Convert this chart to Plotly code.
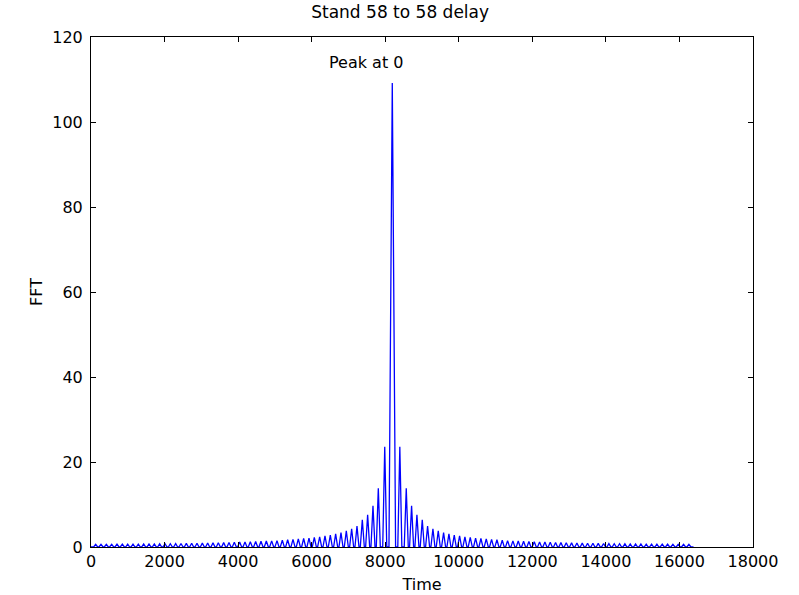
import plotly.graph_objects as go

# ---- data ----
center_time = 8192
last_time = 16383
peak_height = 109.2
peak_halfwidth = 90
lobe_halfwidth = 55

# offsets of side lobes from the centre (same on both sides)
lobe_offsets = [205, 380, 525, 670, 815, 960, 1105, 1250, 1395, 1540,
                1685, 1830, 1975, 2120, 2265, 2410, 2555, 2700, 2845, 2990,
                3135, 3280, 3425, 3570, 3715, 3860, 4005, 4150, 4295, 4440,
                4585, 4730, 4875, 5020, 5165, 5310, 5455, 5600, 5745, 5890,
                6035, 6180, 6325, 6470, 6615, 6760, 6905, 7050, 7195, 7340,
                7485, 7630, 7775, 7920, 8065]
lobe_heights = [23.6, 13.8, 9.7, 7.6, 6.4, 4.9, 4.3, 3.8, 3.4, 3.1,
                2.8, 2.6, 2.4, 2.25, 2.1, 2.0, 1.9, 1.8, 1.7, 1.6,
                1.5, 1.45, 1.4, 1.35, 1.3, 1.25, 1.2, 1.15, 1.1, 1.06,
                1.03, 1.0, 0.97, 0.94, 0.91, 0.89, 0.87, 0.85, 0.83, 0.81,
                0.79, 0.77, 0.75, 0.73, 0.72, 0.71, 0.70, 0.69, 0.68, 0.67,
                0.66, 0.65, 0.64, 0.63, 0.62]

x_ticks = list(range(0, 18001, 2000))
x_tick_labels = [str(v) for v in x_ticks]
y_ticks = list(range(0, 121, 20))

# ---- build the line ----
lobes = [(center_time, peak_height, peak_halfwidth)]
for off, h in zip(lobe_offsets, lobe_heights):
    lobes.append((center_time - off, h, lobe_halfwidth))
    lobes.append((center_time + off, h, lobe_halfwidth))
lobes.sort()

xs, ys = [0], [0]
for c, h, w in lobes:
    xs += [c - w, c, c + w]
    ys += [0, h, 0]
xs.append(last_time)
ys.append(0)

fig = go.Figure()
fig.add_trace(go.Scatter(x=xs, y=ys, mode="lines",
                         line=dict(color="#0000ff", width=1.3)))

fig.add_annotation(x=7480, y=114, text="Peak at 0", showarrow=False,
                   font=dict(size=16, color="black"))

axis_common = dict(showgrid=False, zeroline=False, showline=True,
                   linecolor="black", linewidth=1, mirror="allticks",
                   ticks="inside", ticklen=5, tickcolor="black",
                   automargin=False,
                   tickfont=dict(size=16, color="black"))

fig.update_layout(
    width=799, height=595,
    margin=dict(l=91, r=46, t=37, b=48),
    plot_bgcolor="white", paper_bgcolor="white",
    font=dict(family="DejaVu Sans", size=16, color="black"),
    showlegend=False,
    title=dict(text="Stand 58 to 58 delay", x=0.467, xref="paper",
               xanchor="center",
               y=1 - 12 / 595, yref="container", yanchor="middle",
               font=dict(size=17)),
    xaxis=dict(range=[0, 18000], tickvals=x_ticks, ticktext=x_tick_labels,
               title=dict(text="Time", standoff=8, font=dict(size=16)),
               **axis_common),
    yaxis=dict(range=[0, 120], tickvals=y_ticks, ticklabelstandoff=4,
               title=dict(text="FFT", standoff=5, font=dict(size=16)),
               **axis_common),
)

fig.write_html("out.html",
               config={"displayModeBar": False},
               post_script="document.body.style.margin='0';")
